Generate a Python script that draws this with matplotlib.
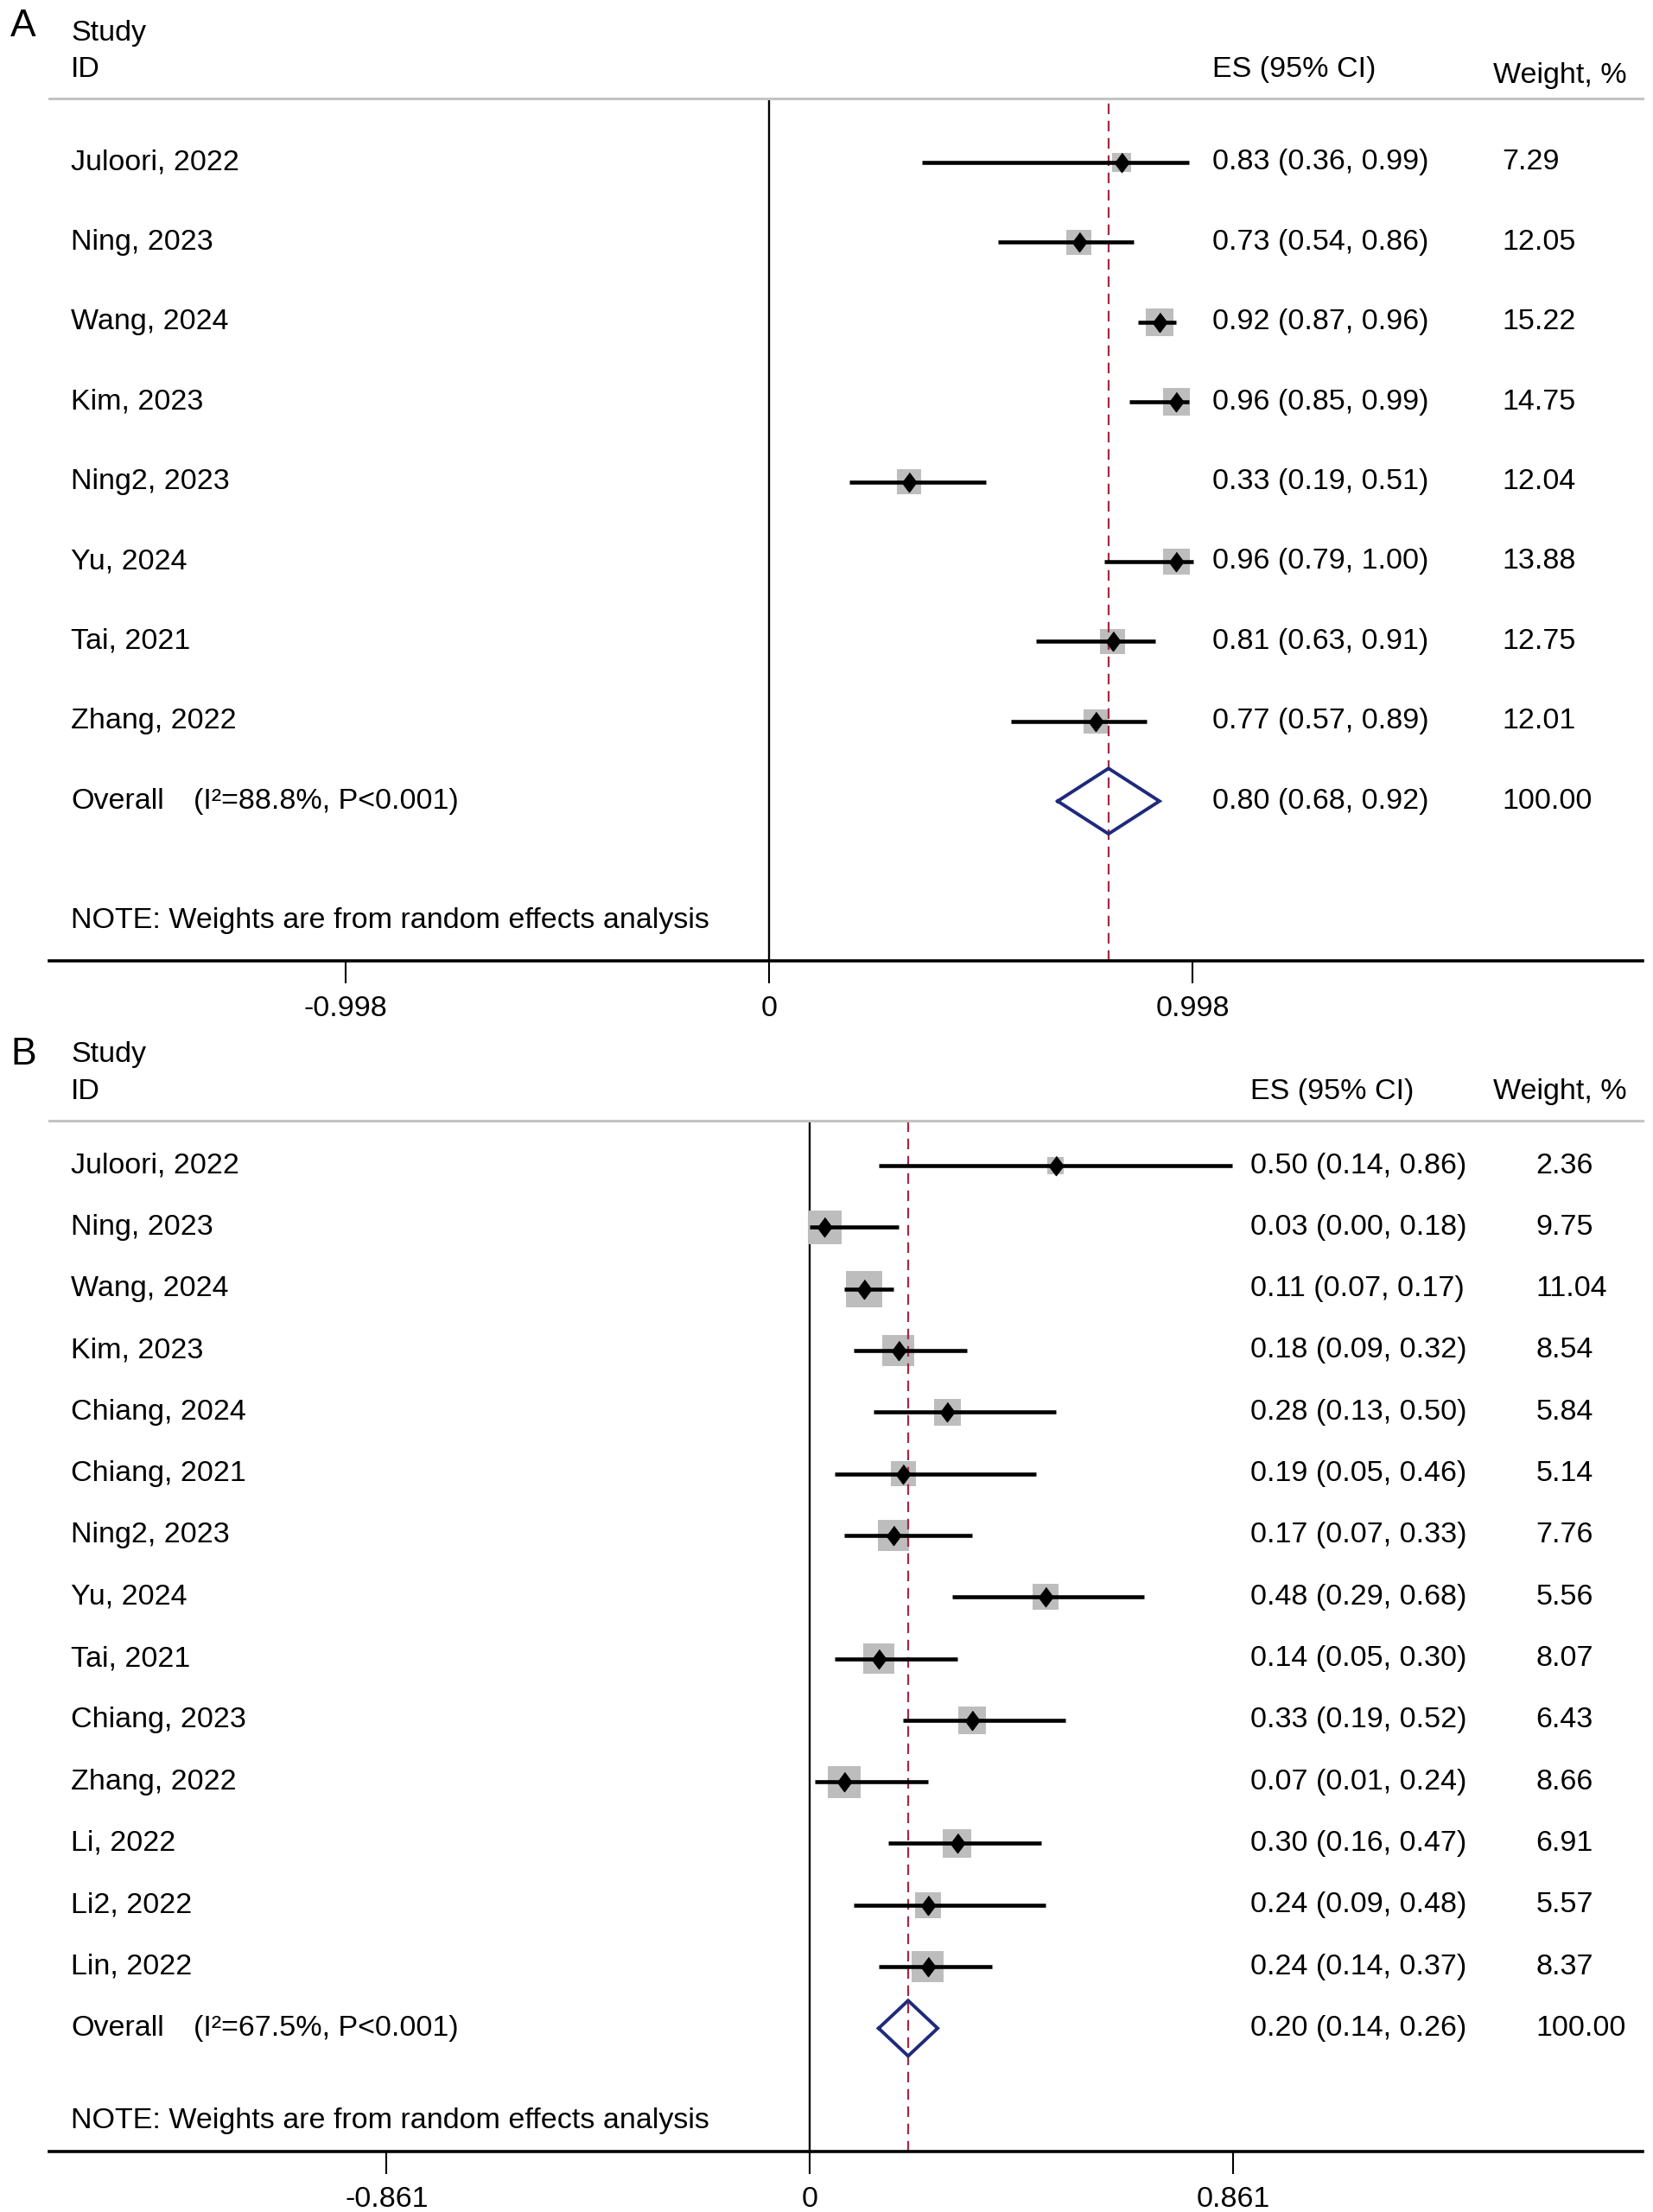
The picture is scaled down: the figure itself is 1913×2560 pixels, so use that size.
import matplotlib
matplotlib.use("Agg")
import matplotlib.pyplot as plt
from matplotlib.transforms import blended_transform_factory

plt.rcParams['font.family'] = ['Liberation Sans', 'DejaVu Sans']

# panel A data
studies_a = ["Juloori, 2022", "Ning, 2023", "Wang, 2024", "Kim, 2023",
             "Ning2, 2023", "Yu, 2024", "Tai, 2021", "Zhang, 2022"]
es_a = [0.83, 0.73, 0.92, 0.96, 0.33, 0.96, 0.81, 0.77]
lo_a = [0.36, 0.54, 0.87, 0.85, 0.19, 0.79, 0.63, 0.57]
hi_a = [0.99, 0.86, 0.96, 0.99, 0.51, 1.00, 0.91, 0.89]
w_a = [7.29, 12.05, 15.22, 14.75, 12.04, 13.88, 12.75, 12.01]
overall_a = (0.80, 0.68, 0.92)
total_w_a = 100.00
i2_a = "88.8%"
ticks_a = [-0.998, 0, 0.998]
ticklabels_a = ["-0.998", "0", "0.998"]

# panel B data
studies_b = ["Juloori, 2022", "Ning, 2023", "Wang, 2024", "Kim, 2023",
             "Chiang, 2024", "Chiang, 2021", "Ning2, 2023", "Yu, 2024",
             "Tai, 2021", "Chiang, 2023", "Zhang, 2022", "Li, 2022",
             "Li2, 2022", "Lin, 2022"]
es_b = [0.50, 0.03, 0.11, 0.18, 0.28, 0.19, 0.17, 0.48, 0.14, 0.33, 0.07, 0.30, 0.24, 0.24]
lo_b = [0.14, 0.00, 0.07, 0.09, 0.13, 0.05, 0.07, 0.29, 0.05, 0.19, 0.01, 0.16, 0.09, 0.14]
hi_b = [0.86, 0.18, 0.17, 0.32, 0.50, 0.46, 0.33, 0.68, 0.30, 0.52, 0.24, 0.47, 0.48, 0.37]
w_b = [2.36, 9.75, 11.04, 8.54, 5.84, 5.14, 7.76, 5.56, 8.07, 6.43, 8.66, 6.91, 5.57, 8.37]
overall_b = (0.20, 0.14, 0.26)
total_w_b = 100.00
i2_b = "67.5%"
ticks_b = [-0.861, 0, 0.861]
ticklabels_b = ["-0.861", "0", "0.861"]

W, H = 1913, 2560
FS = 24.5
fig = plt.figure(figsize=(W / 100, H / 100), dpi=100)


def panel(rect, xlim, ylim, studies, es, lo, hi, w, overall, total_w, i2, ticks, ticklabels,
          hdr, cols, maxside, dh):
    ax = fig.add_axes(rect)
    ax.set_xlim(*xlim)
    ax.set_ylim(*ylim)
    for s in ("left", "right"):
        ax.spines[s].set_visible(False)
    ax.spines["top"].set_color("#c4c4c4")
    ax.spines["top"].set_linewidth(2.2)
    ax.spines["bottom"].set_linewidth(2.6)
    ax.set_yticks([])
    ax.set_xticks(ticks)
    ax.set_xticklabels(ticklabels)
    ax.tick_params(axis="x", direction="out", length=19, width=1.5, pad=10, labelsize=FS)

    tr = blended_transform_factory(ax.transAxes, ax.transData)
    rows = list(range(len(studies)))
    n = len(studies)

    ax.axvline(0, color="black", lw=1.7, zorder=1)
    ax.axvline(overall[0], color="#a52a45", lw=1.6, ls=(0, (5.5, 3.5)), zorder=2.5)

    wmax = max(w)
    sizes = [(maxside * 0.72) ** 2 * v / wmax for v in w]
    ax.scatter(es, rows, s=sizes, marker="s", color="#bdbdbd", lw=0, zorder=2)
    ax.hlines(rows, lo, hi, color="black", lw=3.3, zorder=3)
    ax.plot(es, rows, ls="none", marker=[(0, 1), (0.75, 0), (0, -1), (-0.75, 0)],
            ms=16, color="black", zorder=4)

    # overall diamond
    m, l, h = overall
    ax.plot([l, m, h, m, l], [n, n - dh, n, n + dh, n], color="#1f2a7c", lw=2.8,
            zorder=4, solid_joinstyle="miter")

    lab_x, es_x, wh_x, wv_x = cols
    for i, name in enumerate(studies):
        ax.text(lab_x, i, name, transform=tr, fontsize=FS, va="center")
        ax.text(es_x, i, f"{es[i]:.2f} ({lo[i]:.2f}, {hi[i]:.2f})", transform=tr,
                fontsize=FS, va="center")
        ax.text(wv_x, i, f"{w[i]:.2f}", transform=tr, fontsize=FS, va="center")
    ax.text(lab_x, n, "Overall", transform=tr, fontsize=FS, va="center")
    ax.text(0.0906, n, f"(I\u00b2={i2}, P<0.001)", transform=tr, fontsize=FS, va="center")
    ax.text(es_x, n, f"{m:.2f} ({l:.2f}, {h:.2f})", transform=tr, fontsize=FS, va="center")
    ax.text(wv_x, n, f"{total_w:.2f}", transform=tr, fontsize=FS, va="center")
    ax.text(lab_x, n + 1.5, "NOTE: Weights are from random effects analysis",
            transform=tr, fontsize=FS, va="center")

    study_y, id_y, w_y = hdr
    ax.text(lab_x, study_y, "Study", transform=tr, fontsize=FS, va="center", clip_on=False)
    ax.text(lab_x, id_y, "ID", transform=tr, fontsize=FS, va="center", clip_on=False)
    ax.text(es_x, id_y, "ES (95% CI)", transform=tr, fontsize=FS, va="center", clip_on=False)
    ax.text(wh_x, w_y, "Weight, %", transform=tr, fontsize=FS, va="center", clip_on=False)
    return ax


left, right = 57, 1901
wd = (right - left) / W

# panel A: header line at 114 px, axis at 1112 px
panel([left / W, 1 - 1112 / H, wd, (1112 - 114) / H],
      (-1.697, 2.059), (10, -0.8),
      studies_a, es_a, lo_a, hi_a, w_a, overall_a, total_w_a, i2_a, ticks_a, ticklabels_a,
      (-1.62, -1.16, -1.09), (0.0136, 0.730, 0.906, 0.912), 32, 0.41)

# panel B: header line at 1297 px, axis at 2490 px
panel([left / W, 1 - 2490 / H, wd, (2490 - 1297) / H],
      (-1.547, 1.694), (16, -0.73),
      studies_b, es_b, lo_b, hi_b, w_b, overall_b, total_w_b, i2_b, ticks_b, ticklabels_b,
      (-1.8, -1.2, -1.2), (0.0136, 0.754, 0.906, 0.933), 42, 0.45)

fig.text(12 / W, 1 - 30 / H, "A", fontsize=32, va="center", ha="left")
fig.text(12 / W, 1 - 1220 / H, "B", fontsize=32, va="center", ha="left")

fig.savefig("out.png", dpi=100)
